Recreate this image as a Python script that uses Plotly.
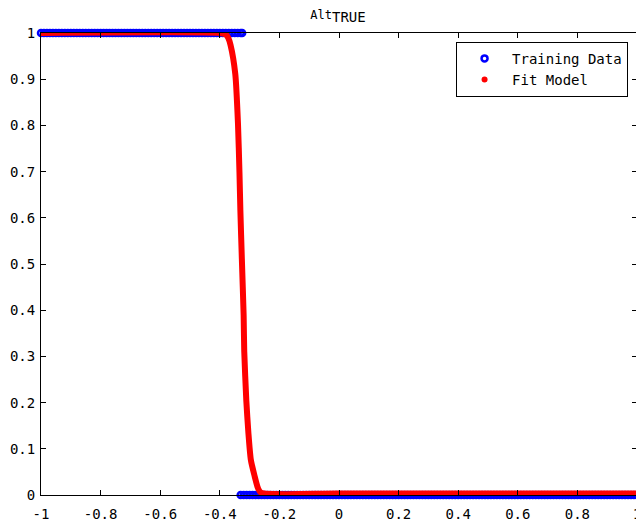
import plotly.graph_objects as go

# Training data: samples labelled TRUE (y=1) and FALSE (y=0)
train_x_true = [-1.00, -0.99, -0.98, -0.97, -0.96, -0.95, -0.94, -0.93, -0.92, -0.91,
                -0.90, -0.89, -0.88, -0.87, -0.86, -0.85, -0.84, -0.83, -0.82, -0.81,
                -0.80, -0.79, -0.78, -0.77, -0.76, -0.75, -0.74, -0.73, -0.72, -0.71,
                -0.70, -0.69, -0.68, -0.67, -0.66, -0.65, -0.64, -0.63, -0.62, -0.61,
                -0.60, -0.59, -0.58, -0.57, -0.56, -0.55, -0.54, -0.53, -0.52, -0.51,
                -0.50, -0.49, -0.48, -0.47, -0.46, -0.45, -0.44, -0.43, -0.42, -0.41,
                -0.40, -0.39, -0.38, -0.37, -0.36, -0.35, -0.34, -0.33, -0.325]
train_x_false = [-0.33, -0.32, -0.31, -0.30, -0.29, -0.28, -0.27, -0.26, -0.25, -0.24,
                 -0.23, -0.22, -0.21, -0.20, -0.19, -0.18, -0.17, -0.16, -0.15, -0.14,
                 -0.13, -0.12, -0.11, -0.10, -0.09, -0.08, -0.07, -0.06, -0.05, -0.04,
                 -0.03, -0.02, -0.01, 0.00, 0.01, 0.02, 0.03, 0.04, 0.05, 0.06,
                 0.07, 0.08, 0.09, 0.10, 0.11, 0.12, 0.13, 0.14, 0.15, 0.16,
                 0.17, 0.18, 0.19, 0.20, 0.21, 0.22, 0.23, 0.24, 0.25, 0.26,
                 0.27, 0.28, 0.29, 0.30, 0.31, 0.32, 0.33, 0.34, 0.35, 0.36,
                 0.37, 0.38, 0.39, 0.40, 0.41, 0.42, 0.43, 0.44, 0.45, 0.46,
                 0.47, 0.48, 0.49, 0.50, 0.51, 0.52, 0.53, 0.54, 0.55, 0.56,
                 0.57, 0.58, 0.59, 0.60, 0.61, 0.62, 0.63, 0.64, 0.65, 0.66,
                 0.67, 0.68, 0.69, 0.70, 0.71, 0.72, 0.73, 0.74, 0.75, 0.76,
                 0.77, 0.78, 0.79, 0.80, 0.81, 0.82, 0.83, 0.84, 0.85, 0.86,
                 0.87, 0.88, 0.89, 0.90, 0.91, 0.92, 0.93, 0.94, 0.95, 0.96,
                 0.97, 0.98, 0.99, 1.00]
LABEL_TRUE = 1
LABEL_FALSE = 0

# Fitted model curve
fit_x = [-1.0, -0.40, -0.38, -0.372, -0.364, -0.348, -0.339, -0.334, -0.331, -0.326,
         -0.320, -0.318, -0.311, -0.304, -0.296, -0.284, -0.272, -0.262, 0.0, 1.0]
fit_y = [1.0, 1.0, 0.997, 0.99, 0.974, 0.911, 0.804, 0.698, 0.617, 0.511,
         0.389, 0.311, 0.204, 0.134, 0.077, 0.043, 0.015, 0.005, 0.003, 0.003]

x_ticks = [-1, -0.8, -0.6, -0.4, -0.2, 0, 0.2, 0.4, 0.6, 0.8, 1]
x_tick_text = ["-1", "-0.8", "-0.6", "-0.4", "-0.2", "0", "0.2", "0.4", "0.6", "0.8", "1"]
y_ticks = [0, 0.1, 0.2, 0.3, 0.4, 0.5, 0.6, 0.7, 0.8, 0.9, 1]
y_tick_text = ["0", "0.1", "0.2", "0.3", "0.4", "0.5", "0.6", "0.7", "0.8", "0.9", "1"]

FONT = "DejaVu Sans Mono"

train_x = train_x_true + train_x_false
train_y = [LABEL_TRUE] * len(train_x_true) + [LABEL_FALSE] * len(train_x_false)

fig = go.Figure()
fig.add_trace(go.Scatter(
    x=train_x, y=train_y, mode="markers", name="Training Data",
    marker=dict(symbol="circle-open", size=6, color="#0000ff", line=dict(width=2.5, color="#0000ff")),
    cliponaxis=False, legendgroup="a",
))
fig.add_trace(go.Scatter(
    x=fit_x, y=fit_y, mode="lines", line=dict(color="#ff0000", width=6, shape="spline", smoothing=0.6),
    showlegend=False, cliponaxis=False, hoverinfo="skip",
))
fig.add_trace(go.Scatter(
    x=[None], y=[None], mode="markers", name="Fit Model",
    marker=dict(symbol="circle", size=6, color="#ff0000"), legendgroup="b",
))

axis_common = dict(
    showgrid=False, zeroline=False, showline=True, linecolor="black", linewidth=1,
    mirror="ticks", ticks="inside", ticklen=5, tickcolor="black", tickwidth=1,
    layer="above traces", tickfont=dict(family=FONT, size=14, color="black"),
)
fig.update_xaxes(range=[-1, 1], tickvals=x_ticks, ticktext=x_tick_text, ticklabelstandoff=6, **axis_common)
fig.update_yaxes(range=[0, 1], tickvals=y_ticks, ticktext=y_tick_text, ticklabelstandoff=2, **axis_common)

fig.update_layout(
    width=646, height=527,
    margin=dict(l=41, r=5, t=33, b=24),
    paper_bgcolor="white", plot_bgcolor="white",
    title=dict(
        text="<span style='font-size:12px'>Alt</span><sub><span style='font-size:14px'>TRUE</span></sub>",
        x=(338 / 646), xanchor="center", y=1 - 14 / 527, yanchor="middle",
        font=dict(family=FONT, size=14, color="black"),
    ),
    legend=dict(
        x=0.985, y=0.981, xanchor="right", yanchor="top",
        bgcolor="white", bordercolor="black", borderwidth=1,
        font=dict(family=FONT, size=14, color="black"),
        traceorder="grouped", tracegroupgap=0, itemwidth=45,
    ),
    showlegend=True,
)

fig.write_html("out.html", config={"displayModeBar": False},
               post_script="document.body.style.margin='0';document.body.style.overflow='hidden';")
